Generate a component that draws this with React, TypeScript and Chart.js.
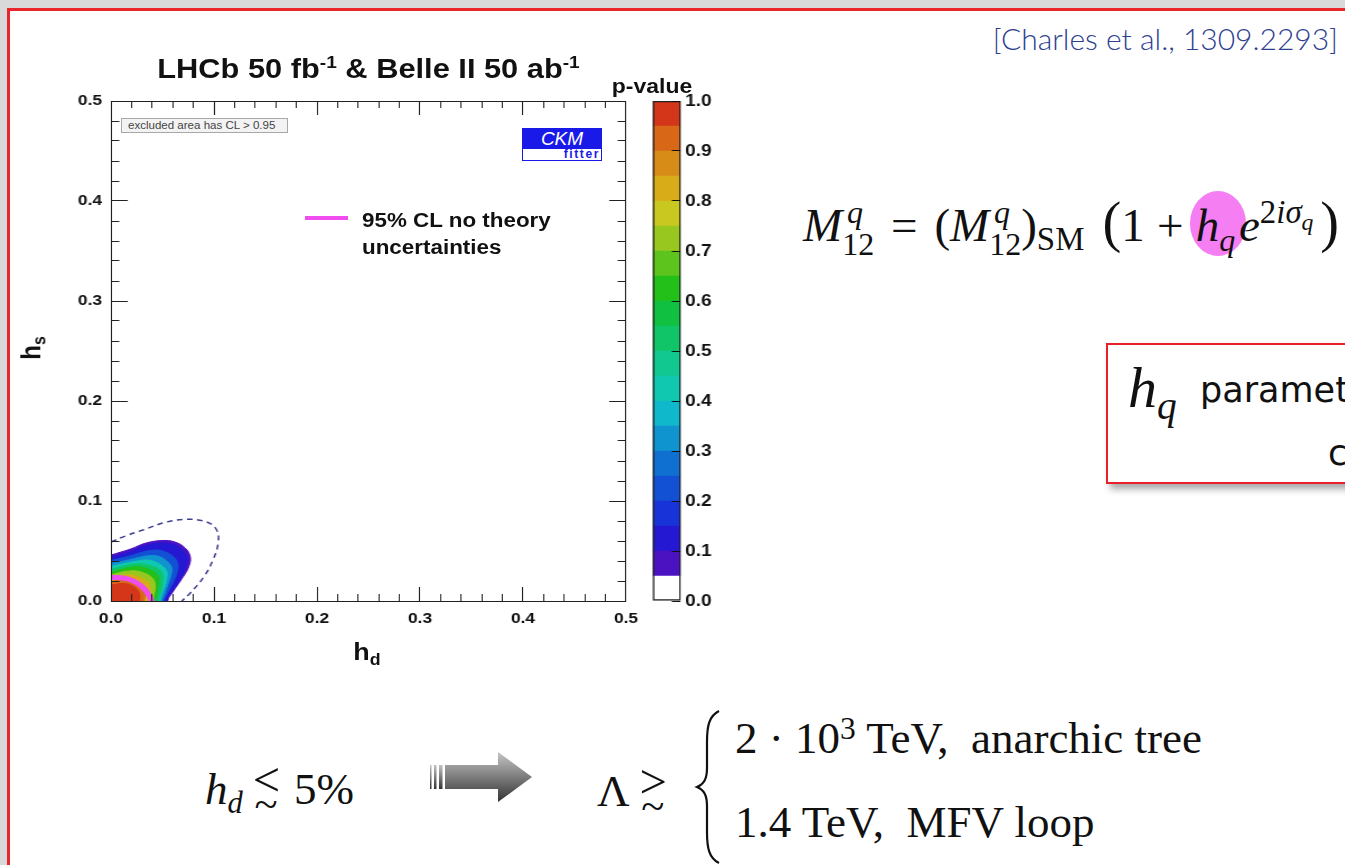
import React, { useEffect, useRef } from 'react';
import { Chart, registerables } from 'chart.js';

Chart.register(...registerables);

// ROOT figure was stretched horizontally in the slide
const STRETCH = 1.12;
const SANS = "'Liberation Sans', Arial, Helvetica, sans-serif";
const SERIF = "'Liberation Serif', 'DejaVu Serif', 'Times New Roman', serif";

// ---------------- data ----------------
const hMajorTicks = [0, 0.1, 0.2, 0.3, 0.4, 0.5];
const hMinorTicks = [
  0, 0.02, 0.04, 0.06, 0.08, 0.1, 0.12, 0.14, 0.16, 0.18, 0.2, 0.22, 0.24,
  0.26, 0.28, 0.3, 0.32, 0.34, 0.36, 0.38, 0.4, 0.42, 0.44, 0.46, 0.48, 0.5,
];
const pTicks = [0, 0.1, 0.2, 0.3, 0.4, 0.5, 0.6, 0.7, 0.8, 0.9, 1.0];

// colour bar: band edges and colours
const pBandEdges = [
  0, 0.05, 0.1, 0.15, 0.2, 0.25, 0.3, 0.35, 0.4, 0.45, 0.5, 0.55, 0.6, 0.65,
  0.7, 0.75, 0.8, 0.85, 0.9, 0.95, 1.0,
];
const pBandColors = [
  '#ffffff', '#4b12c2', '#2418d2', '#1834d8', '#1250d4', '#1070d2', '#1094d0',
  '#10b8cc', '#10c8b0', '#10c890', '#10c468', '#10c040', '#22c018', '#5cc41c',
  '#98c820', '#c8c820', '#d8ac18', '#d88c18', '#d86818', '#d4361a',
];

// p-value contours in the (h_d, h_s) plane
const contourLevels = [0.05, 0.1, 0.2, 0.3, 0.4, 0.5, 0.6, 0.7, 0.8, 0.9, 0.95];
const contourP005: [number, number][] = [[0, .046], [.019, .052], [.034, .058], [.050, .0605], [.062, .059], [.072, .053], [.077, .044], [.075, .033], [.068, .021], [.060, .009], [.055, 0]];
const contourP010: [number, number][] = [[0, .0435], [.019, .0495], [.034, .0555], [.049, .058], [.060, .0565], [.069, .051], [.074, .043], [.072, .032], [.066, .020], [.058, .008], [.0535, 0]];
const contourP020: [number, number][] = [[0, .0405], [.018, .045], [.031, .049], [.043, .051], [.053, .049], [.061, .044], [.065, .037], [.064, .028], [.060, .018], [.055, .008], [.0515, 0]];
const contourP030: [number, number][] = [[0, .0375], [.017, .041], [.029, .044], [.039, .0455], [.048, .044], [.055, .039], [.059, .033], [.058, .025], [.055, .016], [.052, .007], [.0495, 0]];
const contourP040: [number, number][] = [[0, .0345], [.015, .038], [.026, .040], [.035, .041], [.043, .039], [.050, .035], [.054, .030], [.054, .022], [.052, .014], [.049, .006], [.0475, 0]];
const contourP050: [number, number][] = [[0, .0315], [.013, .035], [.023, .037], [.031, .037], [.039, .035], [.046, .032], [.050, .026], [.050, .019], [.049, .012], [.047, .005], [.0455, 0]];
const contourP060: [number, number][] = [[0, .029], [.012, .032], [.021, .034], [.029, .034], [.036, .032], [.042, .029], [.046, .024], [.046, .017], [.045, .010], [.044, .004], [.043, 0]];
const contourP070: [number, number][] = [[0, .026], [.011, .029], [.018, .030], [.025, .030], [.032, .028], [.038, .025], [.042, .020], [.043, .014], [.042, .008], [.041, .003], [.040, 0]];
const contourP080: [number, number][] = [[0, .023], [.009, .025], [.015, .026], [.021, .026], [.027, .024], [.033, .021], [.037, .017], [.038, .012], [.038, .007], [.037, .003], [.036, 0]];
const contourP090: [number, number][] = [[0, .0195], [.008, .021], [.013, .0215], [.018, .021], [.023, .020], [.028, .017], [.031, .013], [.033, .009], [.033, .005], [.0325, .002], [.032, 0]];
const contourP095: [number, number][] = [[0, .016], [.006, .017], [.011, .0175], [.016, .017], [.020, .0155], [.024, .013], [.027, .009], [.028, .006], [.028, .003], [.028, 0]];
const contours = [contourP005, contourP010, contourP020, contourP030, contourP040, contourP050, contourP060, contourP070, contourP080, contourP090, contourP095];

// dashed blue contour (outer)
const dashedContour: [number, number][] = [[0, .059], [.014, .065], [.031, .071], [.054, .079], [.0735, .0817], [.093, .079], [.1026, .071], [.104, .058], [.099, .041], [.090, .024], [.077, .008], [.069, 0], [.067, -.004]];
// 95% CL, no theory uncertainties (magenta)
const noTheory95: [number, number][] = [[-.004, .0236], [0, .0235], [.010, .0232], [.018, .0215], [.026, .0175], [.032, .0125], [.036, .007], [.0385, .0025], [.0395, 0], [.0398, -.004]];

// ---------------- helpers ----------------
const toXY = (pts: [number, number][]) => pts.map(([x, y]) => ({ x, y }));
const closeAlongAxes = (pts: [number, number][]): [number, number][] => [
  ...pts,
  [pts[pts.length - 1][0], -0.02],
  [-0.02, -0.02],
  [-0.02, pts[0][1]],
];
const setTicks = (vals: number[]) => (scale: any) => {
  scale.ticks = vals.map((v) => ({ value: v }));
};
const fixSize = (dim: 'width' | 'height', v: number) => (scale: any) => {
  scale[dim] = v;
  scale.paddingTop = 0;
  scale.paddingBottom = 0;
  scale.paddingLeft = 0;
  scale.paddingRight = 0;
};
const fmt1 = (v: any) => Number(v).toFixed(1);

const AXIS_COLOR = '#222';
const tickFont = { family: SANS, weight: 'bold' as const, size: 15.5 };

// main canvas geometry (internal pixels; CSS width = internal * STRETCH)
const MAIN_W = 600;
const MAIN_H = 560;
const MAIN_TOP = 90;

function tickAxis(position: string, ticks: number[], len: number, size: number, weight: number, border: boolean, labels: boolean, padding = 0) {
  const horiz = position === 'top' || position === 'bottom';
  return {
    type: 'linear',
    position,
    weight,
    min: 0,
    max: 0.5,
    afterBuildTicks: setTicks(ticks),
    afterFit: fixSize(horiz ? 'height' : 'width', size),
    ticks: labels
      ? { display: true, font: tickFont, color: '#111', padding, callback: fmt1, autoSkip: false, maxRotation: 0 }
      : { display: false },
    grid: { display: true, drawOnChartArea: false, drawTicks: true, tickLength: len, color: AXIS_COLOR, lineWidth: 1, z: 1 },
    border: { display: border, color: AXIS_COLOR, width: 1, z: 1 },
  };
}

function MainPlot() {
  const ref = useRef<HTMLCanvasElement>(null);
  useEffect(() => {
    const datasets: any[] = [];
    datasets.push({
      label: '95% CL no theory uncertainties',
      data: toXY(noTheory95),
      showLine: true,
      borderColor: '#f04cf0',
      borderWidth: 5,
      pointRadius: 0,
      tension: 0.4,
      fill: false,
      order: 0,
      xAxisID: 'x',
      yAxisID: 'y',
    });
    datasets.push({
      label: 'CL 0.95 (dashed)',
      data: toXY(dashedContour),
      showLine: true,
      borderColor: '#3c3c8e',
      borderWidth: 1.5,
      borderDash: [5, 4],
      pointRadius: 0,
      tension: 0.4,
      fill: false,
      order: 1,
      xAxisID: 'x',
      yAxisID: 'y',
    });
    contours.forEach((pts, i) => {
      const color = pBandColors[Math.round(contourLevels[i] / 0.05)];
      datasets.push({
        label: `p = ${contourLevels[i]}`,
        data: toXY(closeAlongAxes(pts)),
        showLine: true,
        borderColor: color,
        backgroundColor: color,
        borderWidth: 1,
        pointRadius: 0,
        tension: 0.4,
        fill: 'shape',
        order: 100 - i,
        xAxisID: 'x',
        yAxisID: 'y',
      });
    });

    const chart = new Chart(ref.current as HTMLCanvasElement, {
      type: 'scatter',
      data: { datasets },
      options: {
        responsive: false,
        animation: false,
        devicePixelRatio: 1,
        layout: { padding: 0 },
        plugins: { legend: { display: false }, tooltip: { enabled: false }, title: { display: false } },
        scales: {
          x: tickAxis('bottom', hMajorTicks, -14, MAIN_H - (601 - MAIN_TOP), 0, true, true, 22.7),
          xMinor: tickAxis('bottom', hMinorTicks, -7, 0, -1, false, false),
          xTop: tickAxis('top', hMajorTicks, -14, 101 - MAIN_TOP, 0, true, false),
          xTopMinor: tickAxis('top', hMinorTicks, -7, 0, -1, false, false),
          y: tickAxis('left', hMajorTicks, -15, 111 / STRETCH, 0, true, true, 23),
          yMinor: tickAxis('left', hMinorTicks, -7.5, 0, -1, false, false),
          yRight: tickAxis('right', hMajorTicks, -15, MAIN_W - 626 / STRETCH, 0, true, false),
          yRightMinor: tickAxis('right', hMinorTicks, -7.5, 0, -1, false, false),
        } as any,
      },
    } as any);
    return () => chart.destroy();
  }, []);
  return (
    <canvas
      ref={ref}
      width={MAIN_W}
      height={MAIN_H}
      style={{ position: 'absolute', left: 0, top: MAIN_TOP, width: MAIN_W * STRETCH, height: MAIN_H }}
    />
  );
}

const CB_W = 120;
const CB_H = 580;
const CB_LEFT = 600;
const CB_TOP = 60;

function ColorBar() {
  const ref = useRef<HTMLCanvasElement>(null);
  useEffect(() => {
    const datasets: any[] = [
      {
        label: 'frame',
        data: [[0, 1]],
        backgroundColor: 'rgba(0,0,0,0)',
        borderColor: '#222',
        borderWidth: 1,
        borderSkipped: false,
        grouped: false,
        barPercentage: 1,
        categoryPercentage: 1,
        order: 0,
      },
      ...pBandColors.map((c, i) => ({
        label: `band ${pBandEdges[i]}`,
        data: [[pBandEdges[i], pBandEdges[i + 1]]],
        backgroundColor: c,
        borderWidth: 0,
        grouped: false,
        barPercentage: 1,
        categoryPercentage: 1,
        order: i + 1,
      })),
    ];
    const chart = new Chart(ref.current as HTMLCanvasElement, {
      type: 'bar',
      data: { labels: ['p-value'], datasets },
      options: {
        responsive: false,
        animation: false,
        devicePixelRatio: 1,
        layout: { padding: { left: (653 - CB_LEFT) / STRETCH, top: 101 - CB_TOP, bottom: CB_TOP + CB_H - 601, right: 0 } },
        plugins: { legend: { display: false }, tooltip: { enabled: false } },
        scales: {
          x: { display: false },
          y: {
            position: 'right',
            min: 0,
            max: 1,
            afterBuildTicks: setTicks(pTicks),
            afterFit: fixSize('width', CB_W - (681 - CB_LEFT) / STRETCH),
            ticks: { font: { family: SANS, weight: 'bold', size: 17 }, color: '#111', padding: 12, callback: fmt1 },
            grid: { drawOnChartArea: false, drawTicks: true, tickLength: -8, color: '#111', z: 1 },
            border: { display: false },
          },
        },
      },
    } as any);
    return () => chart.destroy();
  }, []);
  return (
    <canvas
      ref={ref}
      width={CB_W}
      height={CB_H}
      style={{ position: 'absolute', left: CB_LEFT, top: CB_TOP, width: CB_W * STRETCH, height: CB_H }}
    />
  );
}

const abs = (left: number, top: number, extra: React.CSSProperties = {}): React.CSSProperties => ({
  position: 'absolute',
  left,
  top,
  whiteSpace: 'nowrap',
  ...extra,
});

const SupSub = ({ sup, sub }: { sup: React.ReactNode; sub: React.ReactNode }) => (
  <span style={{ position: 'relative', display: 'inline-block', fontSize: '0.68em', lineHeight: 1 }}>
    <span style={{ position: 'relative', top: '0.45em' }}>{sub}</span>
    <span style={{ position: 'absolute', left: '0.15em', top: '-0.55em' }}>{sup}</span>
  </span>
);
const Sub = ({ children, drop = '0.32em', size = '0.68em' }: any) => (
  <span style={{ position: 'relative', top: drop, fontSize: size }}>{children}</span>
);
const Sup = ({ children, rise = '-0.5em', size = '0.68em' }: any) => (
  <span style={{ position: 'relative', top: rise, fontSize: size }}>{children}</span>
);
// "<" or ">" stacked over "~" (\lesssim, \gtrsim)
const SimRel = ({ rel }: { rel: string }) => (
  <span style={{ position: 'relative', display: 'inline-block', width: '0.62em', height: '1em', verticalAlign: 'baseline', margin: '0 0.3em 0 0.22em' }}>
    <span style={{ position: 'absolute', left: 0, bottom: '0.0em', lineHeight: 1, fontSize: '1.08em' }}>{rel}</span>
    <span style={{ position: 'absolute', left: '0.04em', bottom: '-0.5em', lineHeight: 1, fontSize: '0.95em' }}>~</span>
  </span>
);

export default function App() {
  const stretchL: React.CSSProperties = { transform: `scaleX(${STRETCH})`, transformOrigin: 'left center' };
  return (
    <div style={{ position: 'fixed', inset: 0, background: '#d9d9d9', overflow: 'hidden', color: '#111' }}>
      {/* slide */}
      <div
        style={{
          position: 'absolute', left: 7, top: 8, width: 1400, height: 900, background: '#fff',
          borderLeft: '3px solid #e8262c', borderTop: '3px solid #e8262c',
        }}
      />

      {/* ------- CKMfitter plot ------- */}
      <MainPlot />
      <ColorBar />

      <div style={abs(0, 54.5, { width: 737, textAlign: 'center', fontFamily: SANS, fontWeight: 'bold', fontSize: 27.5, lineHeight: 1, transform: `scaleX(${STRETCH})`, transformOrigin: 'center' })}>
        LHCb 50 fb<Sup size="0.62em" rise="-0.55em">-1</Sup> &amp; Belle II 50 ab<Sup size="0.62em" rise="-0.55em">-1</Sup>
      </div>
      <div style={abs(552, 76, { width: 200, textAlign: 'center', fontFamily: SANS, fontWeight: 'bold', fontSize: 20.5, lineHeight: 1, transform: `scaleX(${STRETCH})`, transformOrigin: 'center' })}>
        p-value
      </div>
      <div style={abs(267, 640, { width: 200, textAlign: 'center', fontFamily: SANS, fontWeight: 'bold', fontSize: 24, lineHeight: 1, transform: `scaleX(${STRETCH})`, transformOrigin: 'center' })}>
        h<Sub size="0.66em" drop="0.3em">d</Sub>
      </div>
      <div style={abs(-19, 336, { width: 100, textAlign: 'center', fontFamily: SANS, fontWeight: 'bold', fontSize: 24, lineHeight: 1, transform: `rotate(-90deg) scaleY(${STRETCH})`, transformOrigin: 'center' })}>
        h<Sub size="0.66em" drop="0.3em">s</Sub>
      </div>

      {/* note box */}
      <div style={abs(121, 118, { width: 167, height: 15, boxSizing: 'border-box', border: '1px solid #a8a8a8', background: '#f3f3f3' })} />
      <div style={abs(128, 120.5, { fontFamily: SANS, fontSize: 10.3, lineHeight: 1, color: '#444', ...stretchL })}>
        excluded area has CL &gt; 0.95
      </div>

      {/* CKMfitter logo */}
      <div style={abs(522, 128, { width: 80, height: 21, background: '#1a1ae8', color: '#fff', fontFamily: SANS, fontStyle: 'italic', fontSize: 19, lineHeight: '21px', textAlign: 'center' })}>
        CKM
      </div>
      <div style={abs(522, 149, { width: 80, height: 12, boxSizing: 'border-box', border: '1.5px solid #1a1ae8', borderTop: 'none', background: '#fff' })} />
      <div style={abs(552, 149, { width: 48, textAlign: 'right', color: '#1a1ae8', fontFamily: SANS, fontWeight: 'bold', fontSize: 12, lineHeight: '11px', letterSpacing: 1.6 })}>
        fitter
      </div>

      {/* legend */}
      <div style={abs(305, 216, { width: 43, height: 4, background: '#f04cf0' })} />
      <div style={abs(362, 210, { fontFamily: SANS, fontWeight: 'bold', fontSize: 20, lineHeight: 1, ...stretchL })}>
        95% CL no theory
      </div>
      <div style={abs(362, 237, { fontFamily: SANS, fontWeight: 'bold', fontSize: 20, lineHeight: 1, ...stretchL })}>
        uncertainties
      </div>

      {/* ------- slide text ------- */}
      <div style={abs(838, 23, { width: 500, textAlign: 'right', fontFamily: "Lato, 'Open Sans', sans-serif", fontWeight: 300, fontSize: 30, lineHeight: 1, color: '#2e3f8f' })}>
        [Charles et al., 1309.2293]
      </div>

      <div style={abs(803, 194, { fontFamily: SERIF, fontSize: 47, lineHeight: 1, zIndex: 1 })}>
        <i>M</i>
        <SupSub sup={<i>q</i>} sub="12" />
        <span style={{ margin: '0 0.36em' }}>=</span>
        (<i>M</i>
        <SupSub sup={<i>q</i>} sub="12" />)
        <Sub size="0.7em" drop="0.28em">SM</Sub>
        <span style={{ fontSize: '1.2em', marginLeft: '0.32em' }}>(</span>1
        <span style={{ margin: '0 0.26em' }}>+</span>
        <span style={{ position: 'relative' }}>
          <span
            style={{
              position: 'absolute', left: '-0.12em', top: '-0.16em', width: '1.2em', height: '1.38em',
              borderRadius: '50%', background: '#f47ef2', zIndex: -1,
            }}
          />
          <i>h</i>
          <Sub drop="0.3em"><i>q</i></Sub>
        </span>
        <span style={{ marginLeft: '0.08em' }}><i>e</i></span>
        <Sup rise="-0.55em" size="0.7em">2<i>iσ</i><Sub size="0.72em" drop="0.3em"><i>q</i></Sub></Sup>
        <span style={{ fontSize: '1.2em', marginLeft: '0.12em' }}>)</span>
      </div>

      {/* red box */}
      <div
        style={abs(1106, 343, {
          width: 300, height: 141, boxSizing: 'border-box', border: '2px solid #e8202a', background: '#fff',
          boxShadow: '4px 5px 7px rgba(0,0,0,0.35)',
        })}
      />
      <div style={abs(1128, 359, { fontFamily: SERIF, fontSize: 58, lineHeight: 1 })}>
        <i>h</i>
        <Sub size="0.68em" drop="0.3em"><i>q</i></Sub>
      </div>
      <div style={abs(1200, 372.5, { fontFamily: "'DejaVu Sans', Verdana, sans-serif", fontSize: 35, lineHeight: 1 })}>
        parameterizes NP
      </div>
      <div style={abs(1328, 435.5, { fontFamily: "'DejaVu Sans', Verdana, sans-serif", fontSize: 35, lineHeight: 1 })}>
        contribution
      </div>

      {/* bottom formula */}
      <div style={abs(205, 759.3, { fontFamily: SERIF, fontSize: 45, lineHeight: 1 })}>
        <i>h</i>
        <Sub drop="0.3em"><i>d</i></Sub>
        <SimRel rel="<" />5%
      </div>
      <svg style={{ position: 'absolute', left: 428, top: 750 }} width={106} height={54}>
        <defs>
          <linearGradient id="arrowGrad" x1="0" y1="0" x2="0" y2="1">
            <stop offset="0" stopColor="#c4c4c4" />
            <stop offset="0.45" stopColor="#848484" />
            <stop offset="1" stopColor="#333333" />
          </linearGradient>
        </defs>
        <rect x="2" y="15" width="1.5" height="24" fill="url(#arrowGrad)" />
        <rect x="6" y="15" width="2.5" height="24" fill="url(#arrowGrad)" />
        <rect x="11" y="15" width="3.5" height="24" fill="url(#arrowGrad)" />
        <polygon points="17,15 70,15 70,2 104,27 70,52 70,39 17,39" fill="url(#arrowGrad)" />
      </svg>
      <div style={abs(597, 761.3, { fontFamily: SERIF, fontSize: 45, lineHeight: 1 })}>
        Λ<SimRel rel=">" />
      </div>
      <svg style={{ position: 'absolute', left: 694, top: 708 }} width={32} height={158}>
        <path
          d="M 25 3 C 15 8, 13 18, 13 34 L 13 60 C 13 71, 10 76, 3 79 C 10 82, 13 87, 13 98 L 13 124 C 13 140, 15 150, 25 155"
          stroke="#111" strokeWidth={2.2} fill="none"
        />
      </svg>
      <div style={abs(735, 716.3, { fontFamily: SERIF, fontSize: 45, lineHeight: 1 })}>
        2 · 10<Sup rise="-0.45em" size="0.7em">3</Sup> TeV,&nbsp;&nbsp;anarchic tree
      </div>
      <div style={abs(735, 800.3, { fontFamily: SERIF, fontSize: 45, lineHeight: 1 })}>
        1.4 TeV,&nbsp;&nbsp;MFV loop
      </div>
    </div>
  );
}
